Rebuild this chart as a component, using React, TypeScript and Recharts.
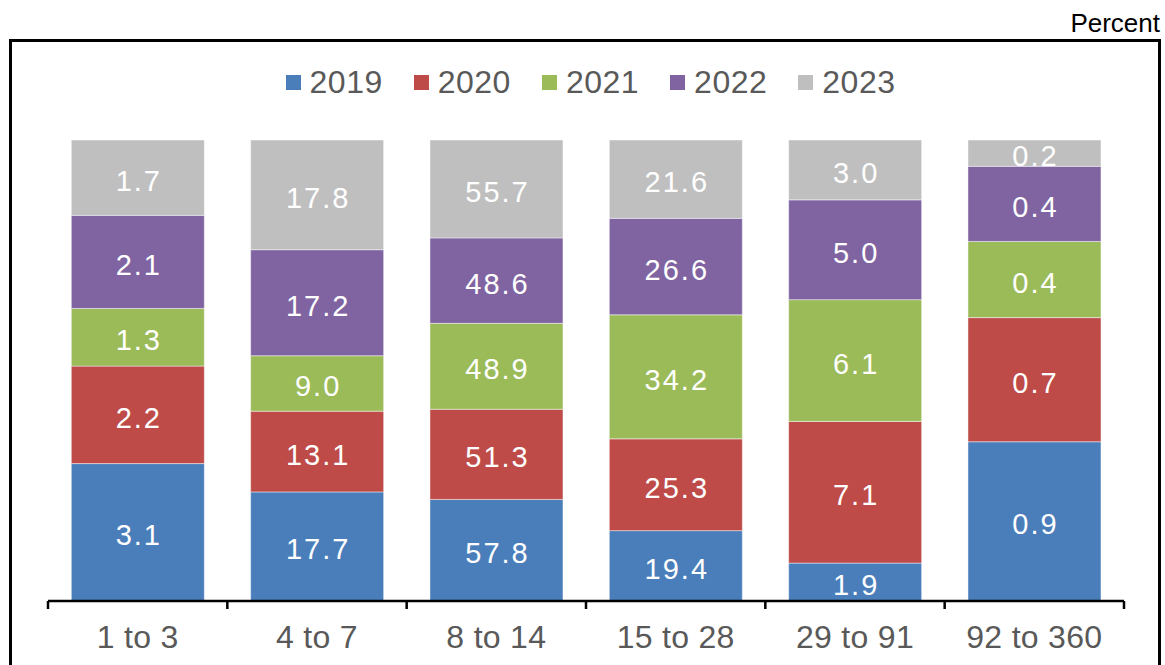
import React from 'react';
import { BarChart, Bar, XAxis, YAxis, Legend, LabelList } from 'recharts';

const categories = ['1 to 3', '4 to 7', '8 to 14', '15 to 28', '29 to 91', '92 to 360'];
const y2019 = [3.1, 17.7, 57.8, 19.4, 1.9, 0.92];
const y2020 = [2.2, 13.1, 51.3, 25.3, 7.1, 0.717];
const y2021 = [1.3, 9.0, 48.9, 34.2, 6.1, 0.44];
const y2022 = [2.1, 17.2, 48.6, 26.6, 5.0, 0.434];
const y2023 = [1.7, 17.8, 55.7, 21.6, 3.0, 0.152];

const seriesNames = ['2019', '2020', '2021', '2022', '2023'];
const seriesColors = ['#4A7EBB', '#BE4B48', '#9BBB59', '#8064A2', '#BFBFBF'];
const seriesValues = [y2019, y2020, y2021, y2022, y2023];

const data = categories.map((c, i) => {
  const row: Record<string, any> = { category: c };
  seriesNames.forEach((s, k) => {
    row[s] = seriesValues[k][i];
  });
  return row;
});

const FONT = '"Liberation Sans", Arial, Helvetica, sans-serif';
const W = 1165;
const H = 665;
const MARGIN = { top: 140, right: 41, bottom: 24, left: 48 };

const BarLabel = (props: any) => {
  const { x, y, width, height, value } = props;
  if (value == null) return null;
  return (
    <text
      x={x + width / 2 + 1}
      y={y + height / 2 + 3}
      textAnchor="middle"
      dominantBaseline="central"
      fill="#ffffff"
      fontFamily={FONT}
      fontSize={29}
      letterSpacing={2}
    >
      {Number(value).toFixed(1)}
    </text>
  );
};

const AxisTick = (props: any) => {
  const { x, y, payload, index } = props;
  const fallback = (W - MARGIN.left - MARGIN.right) / categories.length / 2;
  const half = payload && typeof payload.offset === 'number' && payload.offset > 0 ? payload.offset : fallback;
  return (
    <g>
      <line x1={x - half} x2={x - half} y1={y} y2={y + 8} stroke="#000" strokeWidth={2.5} />
      {index === categories.length - 1 && (
        <line x1={x + half} x2={x + half} y1={y} y2={y + 8} stroke="#000" strokeWidth={2.5} />
      )}
      <text
        x={x}
        y={y + 47}
        textAnchor="middle"
        fill="#595959"
        fontFamily={FONT}
        fontSize={32}
        letterSpacing={0.3}
      >
        {payload.value}
      </text>
    </g>
  );
};

const LegendContent = (props: any) => {
  const payload = (props.payload || []).slice().sort((a: any, b: any) =>
    String(a.value).localeCompare(String(b.value))
  );
  return (
    <div
      style={{
        display: 'flex',
        justifyContent: 'center',
        alignItems: 'center',
        fontFamily: FONT,
        fontSize: 32,
        color: '#595959',
        lineHeight: '36px',
      }}
    >
      {payload.map((p: any, i: number) => (
        <div
          key={p.value}
          style={{ display: 'flex', alignItems: 'center', marginLeft: i === 0 ? 0 : 31 }}
        >
          <span
            style={{
              display: 'inline-block',
              width: 15,
              height: 15,
              background: p.color,
              marginRight: 9,
            }}
          />
          <span style={{ letterSpacing: 0.5 }}>{p.value}</span>
        </div>
      ))}
    </div>
  );
};

export default function App() {
  return (
    <div
      style={{
        position: 'absolute',
        left: 0,
        top: 0,
        width: W,
        height: H,
        overflow: 'hidden',
        background: '#ffffff',
      }}
    >
      <div
        style={{
          position: 'absolute',
          left: 9,
          top: 39,
          width: 1152 - 6,
          height: 700,
          border: '3px solid #000',
        }}
      />
      <div
        style={{
          position: 'absolute',
          right: 5,
          top: 8,
          fontFamily: FONT,
          fontSize: 26,
          color: '#000',
          lineHeight: '30px',
        }}
      >
        Percent
      </div>
      <div style={{ position: 'absolute', left: 0, top: 0 }}>
        <BarChart
          width={W}
          height={H}
          data={data}
          margin={MARGIN}
          stackOffset="expand"
          barCategoryGap="13%"
        >
          <XAxis
            dataKey="category"
            interval={0}
            tickLine={false}
            tickSize={0}
            tickMargin={0}
            height={40}
            axisLine={{ stroke: '#000', strokeWidth: 2.5 }}
            tick={<AxisTick />}
          />
          <YAxis hide domain={[0, 1]} />
          <Legend
            layout="horizontal"
            verticalAlign="middle"
            align="center"
            wrapperStyle={{ top: 64, left: 8, width: W }}
            content={<LegendContent />}
          />
          {seriesNames.map((s, k) => (
            <Bar
              key={s}
              dataKey={s}
              name={s}
              stackId="a"
              fill={seriesColors[k]}
              stroke="#ffffff"
              strokeOpacity={0.45}
              strokeWidth={1}
              isAnimationActive={false}
            >
              <LabelList dataKey={s} content={<BarLabel />} />
            </Bar>
          ))}
        </BarChart>
      </div>
    </div>
  );
}
